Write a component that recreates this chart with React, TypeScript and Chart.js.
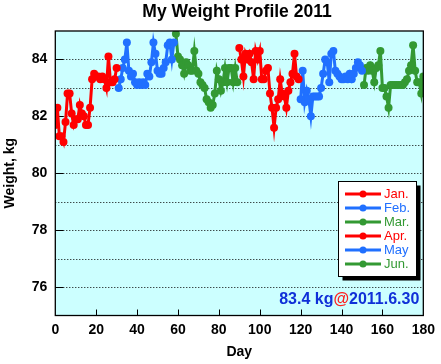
import React, { useEffect, useRef } from "react";
import { Chart, registerables } from "chart.js";

Chart.register(...registerables);

const titleText = "My Weight Profile 2011";
const xTitle = "Day";
const yTitle = "Weight, kg";
const monthNames = ["Jan.", "Feb.", "Mar.", "Apr.", "May", "Jun."];
const monthStartDays = [0, 31, 59, 90, 120, 151];
const monthColors = ["#ff0000", "#2070ff", "#339933", "#ff0000", "#2070ff", "#339933"];
const xTickValues = [0, 20, 40, 60, 80, 100, 120, 140, 160, 180];
const yTickValues = [76, 78, 80, 82, 84];
const yGridValues = [76, 77, 78, 79, 80, 81, 82, 83, 84];
const latestWeight = "83.4 kg";
const latestDate = "2011.6.30";

const jan = [81.7, 82.3, 81.3, 81.3, 81.1, 81.8, 82.8, 82.8, 82.1, 81.7, 81.9, 81.9, 82.4, 82.1, 82.0, 81.7, 81.7, 82.3, 83.3, 83.5, 83.4, 83.4, 83.3, 83.4, 83.3, 83.0, 84.1, 83.2, 83.2, 83.3, 83.7];
const feb = [83.0, 83.3, 83.7, 84.0, 84.6, 83.6, 83.4, 83.5, 83.2, 83.1, 83.2, 83.1, 83.2, 83.1, 83.5, 83.4, 83.9, 84.6, 84.2, 83.6, 83.5, 83.5, 83.7, 83.9, 84.5, 84.6, 84.0, 84.6];
const mar = [84.9, 84.1, 84.0, 83.8, 83.5, 83.9, 83.8, 83.6, 83.6, 84.3, 83.6, 83.5, 83.2, 83.1, 83.0, 82.6, 82.5, 82.3, 82.4, 82.8, 83.6, 83.3, 82.9, 83.2, 83.7, 83.2, 83.7, 83.7, 83.2, 83.7, 83.2];
const apr = [84.4, 84.0, 83.4, 84.2, 84.0, 84.2, 83.9, 83.3, 84.3, 84.0, 84.3, 83.3, 83.3, 83.6, 83.7, 82.8, 82.3, 81.6, 82.3, 82.6, 83.3, 82.8, 82.7, 82.3, 82.9, 83.2, 83.5, 84.2, 83.4, 83.3];
const may = [82.6, 83.6, 82.5, 82.9, 82.6, 82.0, 82.7, 82.7, 82.7, 82.7, 83.0, 83.5, 84.0, 83.9, 83.2, 84.2, 84.3, 83.6, 83.5, 83.4, 83.3, 83.3, 83.4, 83.3, 83.5, 83.3, 83.5, 83.7, 83.9, 83.8, 83.6];
const jun = [83.1, 83.7, 83.6, 83.8, 83.6, 83.2, 83.7, 83.8, 84.3, 83.0, 83.0, 82.7, 82.3, 83.1, 83.1, 83.1, 83.1, 83.1, 83.1, 83.1, 83.2, 83.3, 83.6, 83.8, 84.5, 83.6, 83.2, 83.2, 82.8, 83.4];

const monthValues = [jan, feb, mar, apr, may, jun];

const FONT = '"Liberation Sans", Arial, Helvetica, sans-serif';

const decorPlugin = {
  id: "decor",
  beforeDatasetsDraw(chart: any) {
    const { ctx, chartArea } = chart;
    const { left, right, top, bottom } = chartArea;
    const ys = chart.scales.y;
    const xs = chart.scales.x;
    ctx.save();
    ctx.fillStyle = "#ccffff";
    ctx.fillRect(left, top, right - left, bottom - top);
    ctx.strokeStyle = "#000";
    ctx.lineWidth = 1;
    for (const v of yGridValues) {
      const y = Math.round(ys.getPixelForValue(v)) + 0.5;
      const major = yTickValues.includes(v);
      const start = major ? left + 8 : left;
      if (major) {
        ctx.setLineDash([]);
        ctx.beginPath();
        ctx.moveTo(left, y);
        ctx.lineTo(left + 8, y);
        ctx.stroke();
      }
      ctx.setLineDash([1, 2]);
      ctx.beginPath();
      ctx.moveTo(start, y);
      ctx.lineTo(right, y);
      ctx.stroke();
    }
    ctx.setLineDash([]);
    for (const v of xTickValues) {
      if (v === xTickValues[0] || v === xTickValues[xTickValues.length - 1]) continue;
      const x = Math.round(xs.getPixelForValue(v)) + 0.5;
      ctx.beginPath();
      ctx.moveTo(x, bottom);
      ctx.lineTo(x, bottom - 6);
      ctx.stroke();
    }
    ctx.restore();
  },
  afterDatasetsDraw(chart: any) {
    const { ctx, chartArea } = chart;
    const { left, right, top, bottom } = chartArea;
    ctx.save();
    ctx.strokeStyle = "#000";
    ctx.lineWidth = 1.3;
    ctx.strokeRect(left, top, right - left, bottom - top);
    ctx.restore();
  },
  afterDraw(chart: any) {
    const { ctx, chartArea } = chart;
    ctx.save();
    // title
    ctx.fillStyle = "#000";
    ctx.font = "bold 17.5px " + FONT;
    ctx.textAlign = "center";
    ctx.textBaseline = "middle";
    ctx.fillText(titleText, 237, 12.5);

    // legend
    const lx = 338.5, ly = 181.5, lw = 78, lh = 95;
    ctx.fillStyle = "#000";
    ctx.fillRect(lx + 4, ly + 4, lw, lh);
    ctx.fillStyle = "#fff";
    ctx.fillRect(lx, ly, lw, lh);
    ctx.strokeStyle = "#000";
    ctx.lineWidth = 1;
    ctx.strokeRect(lx, ly, lw, lh);
    ctx.font = "13px " + FONT;
    ctx.textAlign = "left";
    ctx.textBaseline = "middle";
    monthNames.forEach((name, i) => {
      const y = 194 + i * 14;
      const c = monthColors[i];
      ctx.strokeStyle = c;
      ctx.lineWidth = 3;
      ctx.beginPath();
      ctx.moveTo(345, y);
      ctx.lineTo(381, y);
      ctx.stroke();
      ctx.fillStyle = c;
      ctx.beginPath();
      ctx.arc(363, y, 3.5, 0, Math.PI * 2);
      ctx.fill();
      ctx.fillText(name, 384, y + 0.5);
    });

    // latest annotation
    ctx.font = "bold 16px " + FONT;
    ctx.textBaseline = "middle";
    ctx.textAlign = "left";
    const wDate = ctx.measureText(latestDate).width;
    const wAt = ctx.measureText("@").width;
    const wW = ctx.measureText(latestWeight).width;
    const xEnd = chartArea.right - 4;
    const yText = 299.5;
    ctx.fillStyle = "#1030d8";
    ctx.fillText(latestDate, xEnd - wDate, yText);
    ctx.fillStyle = "#ff2020";
    ctx.fillText("@", xEnd - wDate - wAt, yText);
    ctx.fillStyle = "#1030d8";
    ctx.fillText(latestWeight, xEnd - wDate - wAt - wW, yText);
    ctx.restore();
  },
};

export default function App() {
  const ref = useRef<HTMLCanvasElement | null>(null);
  useEffect(() => {
    document.body.style.margin = "0";
    if (!ref.current) return;
    Chart.defaults.font.family = FONT;
    const datasets = monthValues.map((vals, i) => ({
      label: monthNames[i],
      data: vals.map((v, j) => ({ x: monthStartDays[i] + j, y: v })),
      borderColor: monthColors[i],
      backgroundColor: monthColors[i],
      borderWidth: 3,
      pointRadius: 4,
      pointBorderWidth: 0,
      pointBackgroundColor: monthColors[i],
      tension: 0,
    }));
    const chart = new Chart(ref.current, {
      type: "line",
      data: { datasets },
      options: {
        animation: false,
        responsive: false,
        layout: { padding: { top: 31, right: 16.7, left: 0, bottom: 0 } },
        plugins: {
          legend: { display: false },
          title: { display: false },
          tooltip: { enabled: false },
        },
        scales: {
          x: {
            type: "linear",
            min: 0,
            max: 180,
            afterBuildTicks: (s: any) => {
              s.ticks = xTickValues.map((v) => ({ value: v }));
            },
            afterFit: (s: any) => {
              s.height = 48.5;
            },
            grid: { display: false, drawTicks: false, tickLength: 0 },
            border: { display: false },
            ticks: {
              color: "#000",
              font: { size: 14, weight: "bold" },
              padding: 6,
              maxRotation: 0,
              autoSkip: false,
            },
            title: {
              display: true,
              text: xTitle,
              color: "#000",
              font: { size: 14, weight: "bold" },
              padding: { top: 0, bottom: 3 },
            },
          },
          y: {
            type: "linear",
            min: 75,
            max: 85,
            afterBuildTicks: (s: any) => {
              s.ticks = yTickValues.map((v) => ({ value: v }));
            },
            afterFit: (s: any) => {
              s.width = 55.3;
            },
            grid: { display: false, drawTicks: false, tickLength: 0 },
            border: { display: false },
            ticks: {
              color: "#000",
              font: { size: 14, weight: "bold" },
              padding: 8,
            },
            title: {
              display: true,
              text: yTitle,
              color: "#000",
              font: { size: 14, weight: "bold" },
              padding: { top: 2, bottom: 0 },
            },
          },
        },
      },
      plugins: [decorPlugin],
    } as any);
    return () => chart.destroy();
  }, []);
  return (
    <div style={{ position: "absolute", left: 0, top: 0, width: 441, height: 364 }}>
      <canvas ref={ref} width={441} height={364} />
    </div>
  );
}
